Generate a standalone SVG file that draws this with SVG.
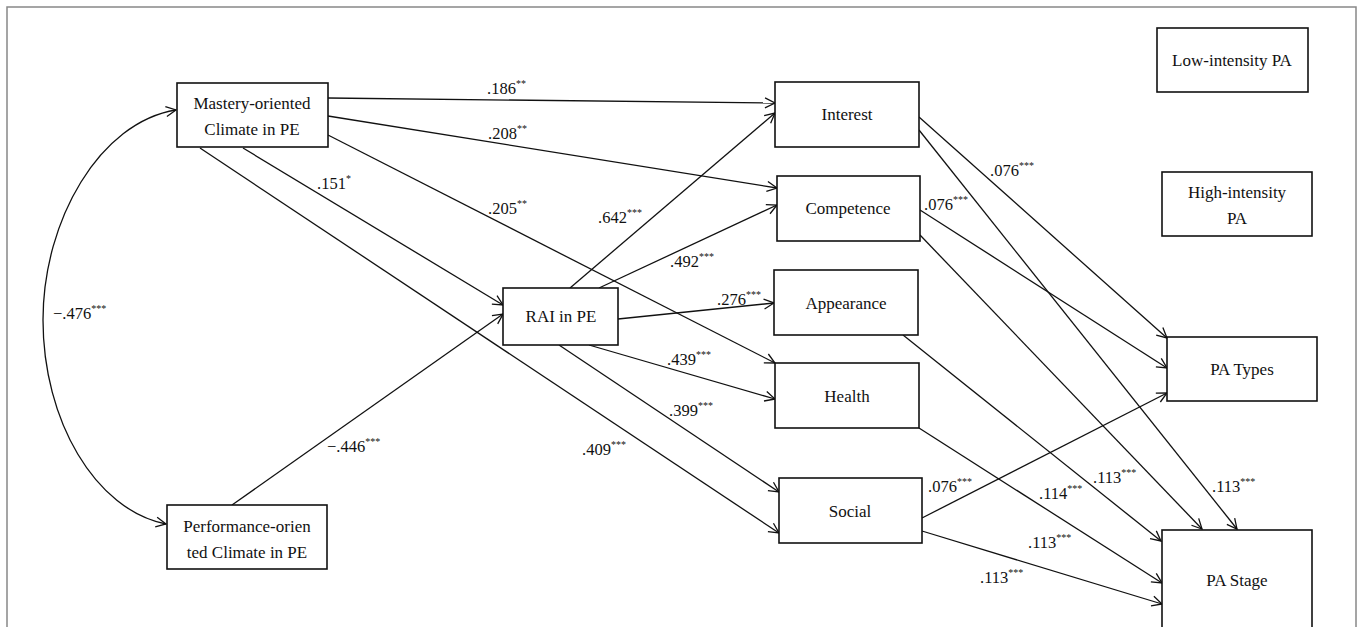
<svg xmlns="http://www.w3.org/2000/svg" width="1360" height="627" viewBox="0 0 1360 627" font-family="'Liberation Serif', 'DejaVu Serif', serif">
<style>
text{font-family:'Liberation Serif','Times New Roman','DejaVu Serif',serif}
.box{fill:#fff;stroke:#111;stroke-width:1.6}
.nt{font-size:17px;fill:#111;text-anchor:middle}
.lb{font-size:16.5px;fill:#111}
.sup{font-size:10px}
.ln{fill:none;stroke:#111;stroke-width:1.3;marker-end:url(#ah)}
</style>
<defs>
<marker id="ah" markerUnits="userSpaceOnUse" markerWidth="14" markerHeight="14" refX="11" refY="6" orient="auto-start-reverse">
<path d="M1,1 L11,6 L1,11" fill="none" stroke="#111" stroke-width="1.3"/>
</marker>
</defs>
<rect x="0" y="0" width="1360" height="627" fill="#fff"/>
<path d="M7,640 L7,7 L1356,7 L1356,640" fill="none" stroke="#888" stroke-width="1.5"/>

<g id="connectors">
<path class="ln" d="M176,110 C100,122 43,220 43,320 C43,420 95,510 166,524" marker-start="url(#ah)"/>
<line class="ln" x1="328" y1="98" x2="775" y2="103"/>
<line class="ln" x1="328" y1="116" x2="777" y2="188"/>
<line class="ln" x1="328" y1="135" x2="775" y2="363"/>
<line class="ln" x1="243" y1="148" x2="503" y2="305"/>
<line class="ln" x1="200" y1="148" x2="779" y2="533"/>
<line class="ln" x1="232" y1="505" x2="503" y2="314"/>
<line class="ln" x1="570" y1="288" x2="775" y2="113"/>
<line class="ln" x1="599" y1="288" x2="777" y2="205"/>
<line class="ln" x1="618" y1="319" x2="774" y2="303"/>
<line class="ln" x1="589" y1="345" x2="775" y2="399"/>
<line class="ln" x1="559" y1="345" x2="779" y2="492"/>
<line class="ln" x1="919" y1="117" x2="1167" y2="338"/>
<line class="ln" x1="919" y1="130" x2="1237" y2="529"/>
<line class="ln" x1="920" y1="210" x2="1167" y2="368"/>
<line class="ln" x1="920" y1="235" x2="1202" y2="529"/>
<line class="ln" x1="903" y1="335" x2="1161" y2="541"/>
<line class="ln" x1="919" y1="428" x2="1162" y2="583"/>
<line class="ln" x1="922" y1="518" x2="1167" y2="393"/>
<line class="ln" x1="922" y1="531" x2="1162" y2="604"/>
</g>

<g id="labels">
<text class="lb" x="53" y="319">−.476<tspan class="sup" dy="-7">***</tspan></text>
<text class="lb" x="487" y="94">.186<tspan class="sup" dy="-7">**</tspan></text>
<text class="lb" x="488" y="139">.208<tspan class="sup" dy="-7">**</tspan></text>
<text class="lb" x="488" y="214">.205<tspan class="sup" dy="-7">**</tspan></text>
<text class="lb" x="317" y="189">.151<tspan class="sup" dy="-7">*</tspan></text>
<text class="lb" x="582" y="455">.409<tspan class="sup" dy="-7">***</tspan></text>
<text class="lb" x="327" y="452">−.446<tspan class="sup" dy="-7">***</tspan></text>
<text class="lb" x="598" y="223">.642<tspan class="sup" dy="-7">***</tspan></text>
<text class="lb" x="670" y="267">.492<tspan class="sup" dy="-7">***</tspan></text>
<text class="lb" x="717" y="305">.276<tspan class="sup" dy="-7">***</tspan></text>
<text class="lb" x="667" y="365">.439<tspan class="sup" dy="-7">***</tspan></text>
<text class="lb" x="669" y="416">.399<tspan class="sup" dy="-7">***</tspan></text>
<text class="lb" x="990" y="176">.076<tspan class="sup" dy="-7">***</tspan></text>
<text class="lb" x="924" y="210">.076<tspan class="sup" dy="-7">***</tspan></text>
<text class="lb" x="928" y="492">.076<tspan class="sup" dy="-7">***</tspan></text>
<text class="lb" x="1039" y="499">.114<tspan class="sup" dy="-7">***</tspan></text>
<text class="lb" x="1093" y="483">.113<tspan class="sup" dy="-7">***</tspan></text>
<text class="lb" x="1212" y="492">.113<tspan class="sup" dy="-7">***</tspan></text>
<text class="lb" x="1028" y="548">.113<tspan class="sup" dy="-7">***</tspan></text>
<text class="lb" x="980" y="583">.113<tspan class="sup" dy="-7">***</tspan></text>
</g>

<g id="mastery"><rect class="box" x="177" y="83" width="151" height="64"/><text class="nt" x="252" y="109">Mastery-oriented</text><text class="nt" x="252" y="135">Climate in PE</text></g>
<g id="performance"><rect class="box" x="167" y="505" width="160" height="64"/><text class="nt" x="247" y="532">Performance-orien</text><text class="nt" x="247" y="558">ted Climate in PE</text></g>
<g id="rai"><rect class="box" x="503" y="288" width="115" height="57"/><text class="nt" x="561" y="322">RAI in PE</text></g>
<g id="interest"><rect class="box" x="775" y="82" width="144" height="65"/><text class="nt" x="847" y="120">Interest</text></g>
<g id="competence"><rect class="box" x="777" y="176" width="143" height="65"/><text class="nt" x="848" y="214">Competence</text></g>
<g id="appearance"><rect class="box" x="774" y="270" width="144" height="65"/><text class="nt" x="846" y="309">Appearance</text></g>
<g id="health"><rect class="box" x="775" y="363" width="144" height="65"/><text class="nt" x="847" y="402">Health</text></g>
<g id="social"><rect class="box" x="779" y="478" width="143" height="65"/><text class="nt" x="850" y="517">Social</text></g>
<g id="low"><rect class="box" x="1157" y="28" width="151" height="64"/><text class="nt" x="1232" y="66">Low-intensity PA</text></g>
<g id="high"><rect class="box" x="1162" y="172" width="150" height="64"/><text class="nt" x="1237" y="198">High-intensity</text><text class="nt" x="1237" y="224">PA</text></g>
<g id="types"><rect class="box" x="1167" y="337" width="150" height="64"/><text class="nt" x="1242" y="375">PA Types</text></g>
<g id="stage"><rect class="box" x="1162" y="530" width="150" height="110"/><text class="nt" x="1237" y="586">PA Stage</text></g>
</svg>
